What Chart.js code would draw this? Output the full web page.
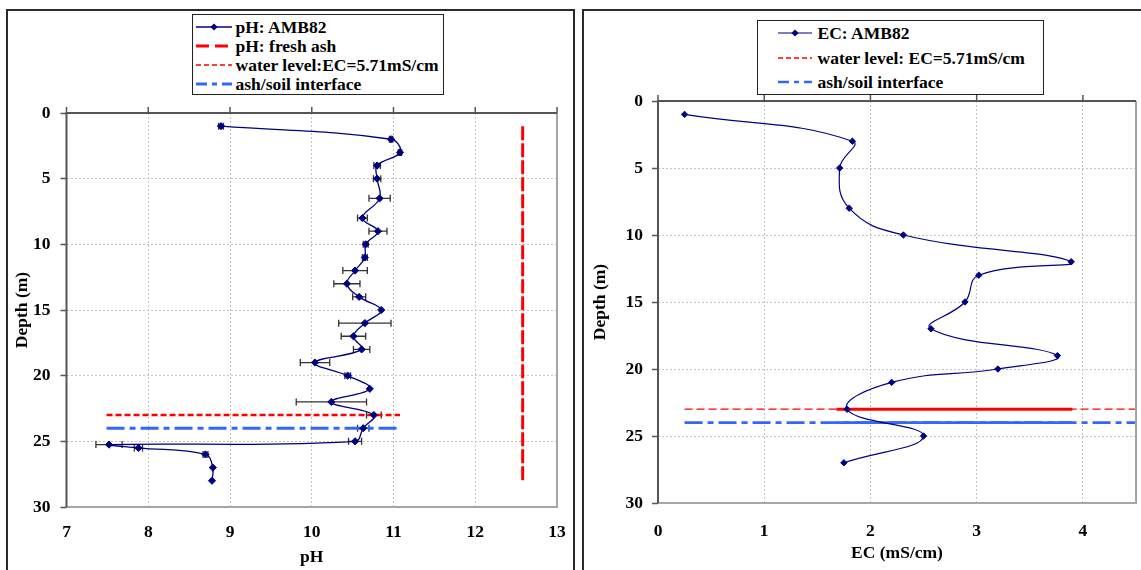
<!DOCTYPE html>
<html>
<head>
<meta charset="utf-8">
<script src="https://cdn.jsdelivr.net/npm/chart.js@4.4.0/dist/chart.umd.min.js"></script>
<style>
  body { margin: 0; width: 1141px; height: 570px; overflow: hidden; background: #fff; font-family: "Liberation Serif", serif; }
  .panel { position: absolute; border: 2px solid #2a2a2a; box-sizing: border-box; }
  #panelL { left: 6px; top: 9px; width: 569px; height: 620px; }
  #panelR { left: 582px; top: 9px; width: 620px; height: 620px; }
  .wrap { position: absolute; }
  #wrapL { left: 7px; top: 10px; width: 567px; height: 560px; }
  #wrapR { left: 583px; top: 10px; width: 558px; height: 560px; }
  .legend { position: absolute; background: #fff; border: 1.5px solid #222; box-sizing: border-box;
            font-weight: bold; font-size: 17.5px; color: #000; }
  .legend .row { display: flex; align-items: center; white-space: nowrap; }
  .legend svg { display: block; flex: none; }
  #legendL { left: 192px; top: 14px; width: 252px; height: 81px; padding-top: 2.5px; }
  #legendL .row { height: 19px; line-height: 19px; }
  #legendL svg { margin-left: 2.5px; margin-right: 4px; }
  #legendR { left: 757px; top: 20px; width: 287px; height: 75px; padding-top: 0; }
  #legendR .row { height: 24.5px; line-height: 24.5px; }
  #legendR svg { margin-left: 19.5px; margin-right: 6px; }
</style>
</head>
<body>
<div class="panel" id="panelL"></div>
<div class="panel" id="panelR"></div>
<div class="wrap" id="wrapL"><canvas id="chartL"></canvas></div>
<div class="wrap" id="wrapR"><canvas id="chartR"></canvas></div>
<div class="legend" id="legendL"></div>
<div class="legend" id="legendR"></div>
<script>
// left panel: pH profile
const phDepths = [1, 2, 3, 4, 5, 6.5, 8, 9, 10, 11, 12, 13, 14, 15, 16, 17, 18, 19, 20, 21, 22, 23, 24, 25, 25.25, 25.5, 26, 27, 28];
const phValues = [8.89, 10.97, 11.08, 10.8, 10.8, 10.83, 10.62, 10.81, 10.66, 10.65, 10.53, 10.43, 10.58, 10.85, 10.65, 10.51, 10.61, 10.04, 10.44, 10.71, 10.24, 10.76, 10.63, 10.53, 7.52, 7.88, 8.7, 8.79, 8.78];
const phErrors = [0.03, 0.02, 0.02, 0.04, 0.045, 0.13, 0.06, 0.11, 0.03, 0.03, 0.15, 0.16, 0.08, 0, 0.32, 0.15, 0.1, 0.18, 0.035, 0, 0.43, 0.09, 0.07, 0.08, 0.16, 0.05, 0.03, 0, 0];
const freshAshPH = 12.58;
const freshAshDepths = [1, 28];
const phLineRange = [7.49, 11.08];
const phTicksX = [7, 13, 1];

// right panel: EC profile
const ecDepths = [1, 3, 5, 8, 10, 12, 13, 15, 17, 19, 20, 21, 23, 25, 27];
const ecValues = [0.25, 1.83, 1.71, 1.8, 2.31, 3.89, 3.02, 2.89, 2.57, 3.76, 3.2, 2.2, 1.78, 2.5, 1.75];
const ecLineRange = [0.25, 4.5];
const ecOverlap = [1.68, 3.9];
const ecTicksX = [0, 4.5, 1];

const waterDepth = 23;
const interfaceDepth = 24;
const depthTicks = [0, 30, 5];

const labelsL = ["pH: AMB82", "pH: fresh ash", "water level:EC=5.71mS/cm", "ash/soil interface"];
const labelsR = ["EC: AMB82", "water level: EC=5.71mS/cm", "ash/soil interface"];

const NAVY = "#000080";
const RED = "#ff0000";
const BLUE = "#3366ff";
const FONT = { family: "'Liberation Serif', 'Times New Roman', serif", size: 17.5, weight: "bold" };

const pts = (xs, ys) => xs.map((x, i) => ({ x, y: ys[i] }));
const hline = (range, depth) => [{ x: range[0], y: depth }, { x: range[1], y: depth }];

const framePlugin = {
  id: "frame",
  afterDraw(chart) {
    const { ctx, chartArea: a, scales } = chart;
    ctx.save();
    ctx.lineWidth = 2;
    ctx.strokeStyle = "#a6a6a6";
    ctx.beginPath();
    ctx.moveTo(a.right, a.top);
    ctx.lineTo(a.right, a.bottom);
    ctx.lineTo(a.left, a.bottom);
    ctx.stroke();
    ctx.strokeStyle = "#555";
    ctx.beginPath();
    ctx.moveTo(a.left, a.bottom);
    ctx.lineTo(a.left, a.top);
    ctx.lineTo(a.right, a.top);
    ctx.stroke();
    ctx.lineWidth = 1.5;
    scales.x.ticks.forEach((t) => {
      const px = scales.x.getPixelForValue(t.value);
      ctx.beginPath();
      ctx.moveTo(px, a.top - 6);
      ctx.lineTo(px, a.top);
      ctx.stroke();
    });
    ctx.restore();
  },
};

const errorBarPlugin = {
  id: "errorBars",
  beforeDatasetsDraw(chart) {
    const { ctx, scales: { x, y } } = chart;
    ctx.save();
    ctx.strokeStyle = "#333";
    ctx.lineWidth = 1.3;
    phValues.forEach((v, i) => {
      const e = phErrors[i];
      if (!e) return;
      const x1 = x.getPixelForValue(v - e);
      const x2 = x.getPixelForValue(v + e);
      const py = y.getPixelForValue(phDepths[i]);
      ctx.beginPath();
      ctx.moveTo(x1, py);
      ctx.lineTo(x2, py);
      ctx.moveTo(x1, py - 3.5);
      ctx.lineTo(x1, py + 3.5);
      ctx.moveTo(x2, py - 3.5);
      ctx.lineTo(x2, py + 3.5);
      ctx.stroke();
    });
    ctx.restore();
  },
};

function makeScales(xt, cfg) {
  return {
    x: {
      type: "linear",
      position: "bottom",
      min: xt[0],
      max: xt[1],
      afterBuildTicks: (s) => { s.ticks = s.ticks.filter((t) => Number.isInteger(t.value)); },
      afterFit: (s) => { s.height = cfg.xHeight; s.paddingLeft = 0; s.paddingRight = 0; },
      ticks: { stepSize: xt[2], padding: cfg.xPad, color: "#000", font: FONT, maxRotation: 0 },
      grid: { color: "#c4c4c4", lineWidth: 1, drawTicks: false, borderDash: [2, 2] },
      border: { display: false, dash: [2, 2] },
      title: { display: true, text: cfg.xTitle, color: "#000", font: FONT, padding: { top: 0, bottom: cfg.xTitlePad } },
    },
    y: {
      type: "linear",
      reverse: true,
      min: depthTicks[0],
      max: depthTicks[1],
      afterFit: (s) => { s.width = cfg.yWidth; s.paddingTop = 0; s.paddingBottom = 0; },
      ticks: { stepSize: depthTicks[2], padding: cfg.yPad, color: "#000", font: FONT },
      grid: { color: "#c4c4c4", lineWidth: 1, drawTicks: true, tickLength: 6, tickColor: "#555", tickWidth: 1.5, tickBorderDash: [], borderDash: [2, 2] },
      border: { display: false, dash: [2, 2] },
      title: { display: true, text: "Depth (m)", color: "#000", font: FONT, padding: { top: cfg.yTitlePad, bottom: 0 } },
    },
  };
}

const chartL = new Chart(document.getElementById("chartL"), {
  type: "line",
  data: {
    datasets: [
      {
        label: labelsL[0],
        data: pts(phValues, phDepths),
        borderColor: NAVY, backgroundColor: NAVY, borderWidth: 1.3, tension: 0.4,
        pointStyle: "rectRot", pointRadius: 3.6, pointBorderWidth: 1,
      },
      {
        label: labelsL[1],
        data: pts([freshAshPH, freshAshPH], freshAshDepths),
        borderColor: RED, borderWidth: 3, borderDash: [14, 3], pointRadius: 0,
        legendDash: [13, 6],
      },
      {
        label: labelsL[2],
        data: hline(phLineRange, waterDepth),
        borderColor: RED, borderWidth: 2.5, borderDash: [6, 3], pointRadius: 0,
        legendDash: [5, 3], legendWidth: 1.5,
      },
      {
        label: labelsL[3],
        data: hline(phLineRange, interfaceDepth),
        borderColor: BLUE, borderWidth: 3, borderDash: [18, 5, 6, 5], pointRadius: 0,
        legendDash: [11, 5, 5, 5],
      },
    ],
  },
  options: {
    responsive: true,
    maintainAspectRatio: false,
    devicePixelRatio: 1,
    animation: false,
    layout: { padding: { left: 0, top: 103, right: 17, bottom: 0 } },
    plugins: { legend: { display: false }, tooltip: { enabled: false } },
    scales: makeScales(phTicksX, { xHeight: 63, xPad: 15, xTitle: "pH", xTitlePad: 2.5, yWidth: 59.5, yPad: 10, yTitlePad: 4.5 }),
  },
  plugins: [errorBarPlugin, framePlugin],
});

const chartR = new Chart(document.getElementById("chartR"), {
  type: "line",
  data: {
    datasets: [
      {
        label: labelsR[0],
        data: pts(ecValues, ecDepths),
        borderColor: NAVY, backgroundColor: NAVY, borderWidth: 1.2, tension: 0.45,
        pointStyle: "rectRot", pointRadius: 3.2, pointBorderWidth: 1,
      },
      {
        label: labelsR[1],
        data: hline(ecLineRange, waterDepth),
        borderColor: RED, borderWidth: 1.3, borderDash: [8, 4], pointRadius: 0,
        legendDash: [5, 3],
      },
      {
        label: labelsR[2],
        data: hline(ecLineRange, interfaceDepth),
        borderColor: BLUE, borderWidth: 2.6, borderDash: [18, 5, 6, 5], pointRadius: 0,
        legendDash: [11, 5, 5, 5],
      },
      {
        label: "",
        data: hline(ecOverlap, waterDepth),
        borderColor: RED, borderWidth: 3, pointRadius: 0, hideInLegend: true,
      },
      {
        label: "",
        data: hline(ecOverlap, interfaceDepth),
        borderColor: BLUE, borderWidth: 2.6, pointRadius: 0, hideInLegend: true,
      },
    ],
  },
  options: {
    responsive: true,
    maintainAspectRatio: false,
    devicePixelRatio: 1,
    animation: false,
    layout: { padding: { left: 0, top: 91, right: 4, bottom: 0 } },
    plugins: { legend: { display: false }, tooltip: { enabled: false } },
    scales: makeScales(ecTicksX, { xHeight: 67, xPad: 17.5, xTitle: "EC (mS/cm)", xTitlePad: 6.5, yWidth: 75, yPad: 9, yTitlePad: 6.5 }),
  },
  plugins: [framePlugin],
});

function buildLegend(el, chart, sampleWidth) {
  const NS = "http://www.w3.org/2000/svg";
  chart.data.datasets.forEach((ds) => {
    if (ds.hideInLegend) return;
    const row = document.createElement("div");
    row.className = "row";
    const svg = document.createElementNS(NS, "svg");
    svg.setAttribute("width", sampleWidth);
    svg.setAttribute("height", 12);
    const line = document.createElementNS(NS, "line");
    line.setAttribute("x1", 0);
    line.setAttribute("x2", sampleWidth);
    line.setAttribute("y1", 6);
    line.setAttribute("y2", 6);
    line.setAttribute("stroke", ds.borderColor);
    line.setAttribute("stroke-width", ds.legendWidth || ds.borderWidth);
    if (ds.legendDash) line.setAttribute("stroke-dasharray", ds.legendDash.join(" "));
    svg.appendChild(line);
    if (ds.pointRadius) {
      const c = sampleWidth / 2, r = 3.6;
      const d = document.createElementNS(NS, "polygon");
      d.setAttribute("points", `${c},${6 - r} ${c + r},6 ${c},${6 + r} ${c - r},6`);
      d.setAttribute("fill", ds.borderColor);
      svg.appendChild(d);
    }
    row.appendChild(svg);
    const span = document.createElement("span");
    span.textContent = ds.label;
    row.appendChild(span);
    el.appendChild(row);
  });
}

buildLegend(document.getElementById("legendL"), chartL, 36);
buildLegend(document.getElementById("legendR"), chartR, 34);
</script>
</body>
</html>
